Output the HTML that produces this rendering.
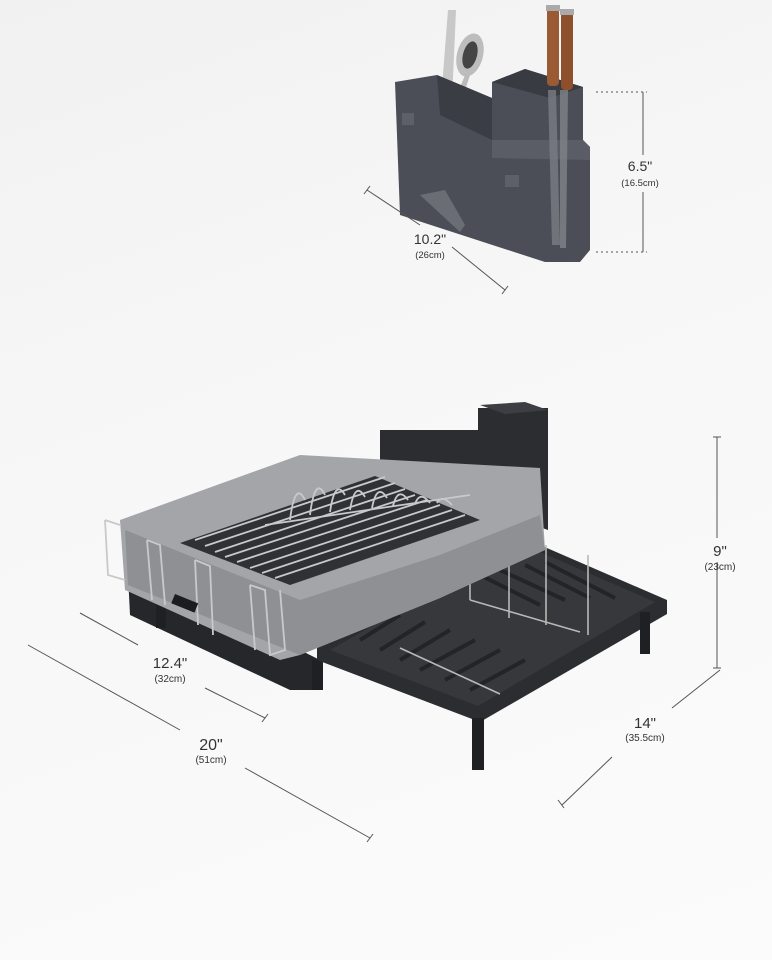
<!DOCTYPE html>
<html><head><style>
html,body{margin:0;padding:0;}
body{width:772px;height:960px;overflow:hidden;background:linear-gradient(160deg,#f1f1f1 0%,#f7f7f7 40%,#fbfbfb 100%);font-family:"Liberation Sans",sans-serif;}
svg{display:block}
text{font-family:"Liberation Sans",sans-serif;fill:#333}
</style></head><body>
<svg width="772" height="960" viewBox="0 0 772 960">
<!-- TOP HOLDER -->
<g>
 <path d="M441,100 L448,10 L456,10 L452,100Z" fill="#c8c8c8"/>
 <ellipse cx="470" cy="55" rx="13" ry="22" fill="#bdbdbd" transform="rotate(15 470 55)"/>
 <ellipse cx="470" cy="55" rx="7" ry="14" fill="#444" transform="rotate(15 470 55)"/>
 <path d="M455,100 L465,75 L470,75 L462,100Z" fill="#bbb"/>
 <path d="M395,82 L437,75 L492,98 L492,82 L525,69 L583,87 L583,140 L590,147 L590,250 L580,262 L545,262 L400,215 Z" fill="#4b4e56"/>
 <path d="M437,75 L492,98 L492,140 L440,115Z" fill="#3b3d44"/>
 <path d="M492,82 L525,69 L583,87 L550,98Z" fill="#393b42"/>
 <path d="M492,140 L583,140 L590,147 L590,160 L492,158Z" fill="#5a5d65"/>
 <rect x="402" y="113" width="12" height="12" fill="#5d6068"/>
 <rect x="505" y="175" width="14" height="12" fill="#5d6068"/>
 <path d="M420,195 L445,190 L465,225 L460,232 Z" fill="#6a6d74"/>
 <path d="M548,90 L556,90 L560,245 L552,245Z" fill="#7a7d84" opacity="0.8"/>
 <path d="M560,90 L568,90 L566,248 L560,248Z" fill="#80838a" opacity="0.8"/>
 <rect x="547" y="8" width="12" height="78" rx="4" fill="#9a5a33"/>
 <rect x="561" y="12" width="12" height="78" rx="4" fill="#8e4f2c"/>
 <rect x="546" y="5" width="14" height="6" fill="#aaa"/>
 <rect x="560" y="9" width="14" height="6" fill="#aaa"/>
</g>
<!-- top dims -->
<g stroke="#555" stroke-width="1" fill="none">
 <line x1="643" y1="92" x2="643" y2="155"/>
 <line x1="643" y1="192" x2="643" y2="252"/>
 <line x1="596" y1="92" x2="647" y2="92" stroke-dasharray="2,3"/>
 <line x1="596" y1="252" x2="647" y2="252" stroke-dasharray="2,3"/>
 <line x1="367" y1="190" x2="420" y2="225"/>
 <line x1="452" y1="247" x2="505" y2="290"/>
 <line x1="364" y1="194" x2="370" y2="186"/>
 <line x1="502" y1="294" x2="508" y2="286"/>
</g>
<text x="640" y="171" font-size="14" text-anchor="middle">6.5"</text>
<text x="640" y="186" font-size="9.5" text-anchor="middle">(16.5cm)</text>
<text x="430" y="244" font-size="14" text-anchor="middle">10.2"</text>
<text x="430" y="258" font-size="9.5" text-anchor="middle">(26cm)</text>

<!-- BOTTOM RACK -->
<!-- cutlery holder behind -->
<path d="M380,430 L478,430 L478,408 L548,408 L548,530 L380,470Z" fill="#2c2d31"/>
<path d="M480,405 L525,402 L548,410 L505,414Z" fill="#3d3e43"/>
<!-- base black under tray -->
<path d="M128,575 L300,650 L320,660 L320,690 L290,690 L130,615Z" fill="#26272a"/>
<rect x="156" y="598" width="10" height="30" fill="#1f2023"/>
<rect x="312" y="660" width="11" height="30" fill="#1f2023"/>
<!-- drainboard -->
<path d="M317,648 L455,570 L540,545 L667,600 L667,614 L480,722 L317,660Z" fill="#2c2d31"/>
<path d="M330,650 L458,577 L540,552 L655,602 L478,706Z" fill="#37383c"/>
<g stroke="#232427" stroke-width="4">
 <line x1="360" y1="640" x2="400" y2="615"/><line x1="380" y1="650" x2="425" y2="622"/>
 <line x1="400" y1="660" x2="450" y2="630"/><line x1="420" y1="670" x2="475" y2="640"/>
 <line x1="445" y1="680" x2="500" y2="650"/><line x1="470" y1="690" x2="525" y2="660"/>
 <line x1="480" y1="575" x2="540" y2="605"/><line x1="500" y1="570" x2="565" y2="600"/>
 <line x1="525" y1="565" x2="590" y2="598"/><line x1="545" y1="562" x2="615" y2="598"/>
</g>
<rect x="472" y="718" width="12" height="52" fill="#1f2023"/>
<rect x="640" y="612" width="10" height="42" fill="#1f2023"/>
<g stroke="#b8b8b8" stroke-width="1.6" fill="none">
 <line x1="400" y1="648" x2="500" y2="694"/>
 <line x1="470" y1="600" x2="580" y2="632"/>
 <line x1="470" y1="535" x2="470" y2="600"/><line x1="509" y1="538" x2="509" y2="618"/>
 <line x1="546" y1="545" x2="546" y2="625"/><line x1="588" y1="555" x2="588" y2="635"/>
</g>
<!-- silver tray -->
<path d="M120,520 L300,455 L540,468 L545,550 L440,598 L300,655 L280,660 L125,590Z" fill="#a3a5a8"/>
<path d="M125,530 L300,600 L440,555 L540,515 L545,550 L440,598 L300,655 L128,585Z" fill="#8e9094"/>
<path d="M180,543 L375,476 L480,520 L290,585Z" fill="#303134"/>
<g stroke="#c9c9c9" stroke-width="1.8" fill="none">
 <line x1="195" y1="540" x2="385" y2="477"/><line x1="205" y1="546" x2="395" y2="483"/>
 <line x1="215" y1="552" x2="405" y2="489"/><line x1="225" y1="557" x2="415" y2="495"/>
 <line x1="237" y1="562" x2="427" y2="500"/><line x1="250" y1="568" x2="440" y2="505"/>
 <line x1="262" y1="573" x2="452" y2="510"/><line x1="275" y1="578" x2="465" y2="515"/>
 <line x1="265" y1="525" x2="470" y2="495"/>
 <path d="M290,520 Q295,480 305,500"/><path d="M310,515 Q315,475 325,495"/>
 <path d="M330,512 Q335,478 345,495"/><path d="M350,510 Q355,480 365,497"/>
 <path d="M372,508 Q377,482 387,498"/><path d="M393,506 Q398,486 408,500"/>
 <path d="M415,504 Q420,490 430,503"/><path d="M437,503 Q442,494 452,505"/>
 <path d="M105,520 L108,575 L125,580 M105,520 L120,525"/>
 <path d="M147,540 L152,600 M147,540 L160,545 L165,605"/>
 <path d="M195,560 L198,625 M195,560 L210,566 L213,635"/>
 <path d="M250,585 L255,650 M250,585 L265,590 L270,655 L285,650 L280,590"/>
</g>
<rect x="175" y="594" width="25" height="10" fill="#1b1c1f" transform="rotate(22 175 594)"/>
<!-- bottom dims -->
<g stroke="#555" stroke-width="1" fill="none">
 <line x1="80" y1="613" x2="138" y2="645"/>
 <line x1="205" y1="688" x2="265" y2="718"/>
 <line x1="262" y1="722" x2="268" y2="714"/>
 <line x1="28" y1="645" x2="180" y2="730"/>
 <line x1="245" y1="768" x2="370" y2="838"/>
 <line x1="367" y1="842" x2="373" y2="834"/>
 <line x1="717" y1="437" x2="717" y2="538"/>
 <line x1="717" y1="562" x2="717" y2="668"/>
 <line x1="713" y1="437" x2="721" y2="437"/>
 <line x1="713" y1="668" x2="721" y2="668"/>
 <line x1="720" y1="670" x2="672" y2="708"/>
 <line x1="612" y1="757" x2="562" y2="805"/>
 <line x1="558" y1="800" x2="564" y2="808"/>
</g>
<text x="170" y="668" font-size="15" text-anchor="middle">12.4"</text>
<text x="170" y="682" font-size="10" text-anchor="middle">(32cm)</text>
<text x="211" y="750" font-size="16" text-anchor="middle">20"</text>
<text x="211" y="763" font-size="10" text-anchor="middle">(51cm)</text>
<text x="720" y="556" font-size="15" text-anchor="middle">9"</text>
<text x="720" y="570" font-size="10" text-anchor="middle">(23cm)</text>
<text x="645" y="728" font-size="15" text-anchor="middle">14"</text>
<text x="645" y="741" font-size="10" text-anchor="middle">(35.5cm)</text>
</svg>
</body></html>
